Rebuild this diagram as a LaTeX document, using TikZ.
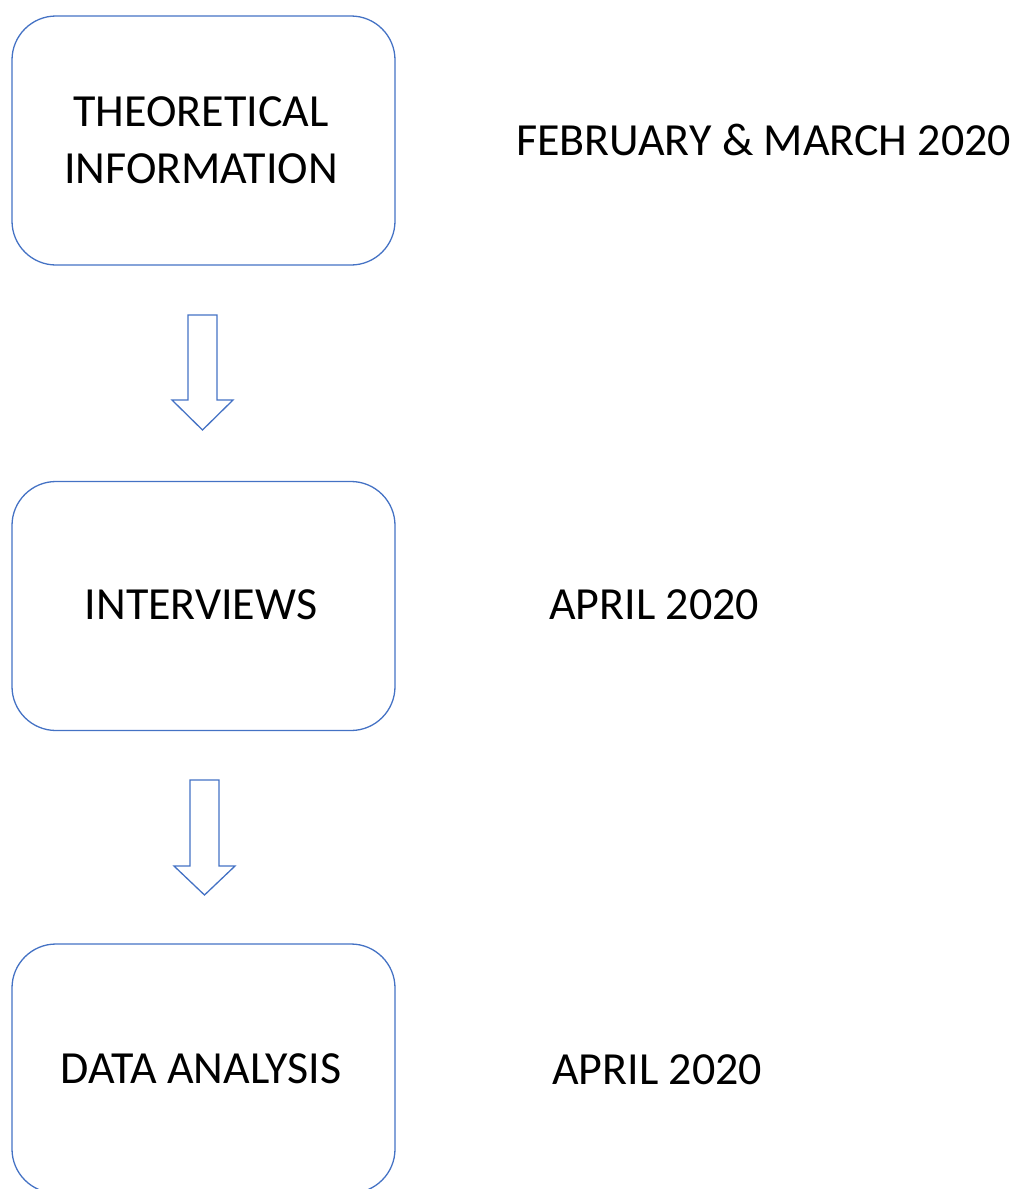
\documentclass[tikz,border=0pt]{standalone}
\usepackage{fontspec}
\setmainfont{Carlito}
\definecolor{boxblue}{HTML}{4472C4}
\begin{document}
\begin{tikzpicture}[x=1pt,y=-1pt,
  stagebox/.style={draw=boxblue, line width=1.3pt, rounded corners=44pt, minimum width=383pt, minimum height=249pt, inner sep=0pt},
  lbl/.style={font=\fontsize{46}{56}\selectfont, inner sep=0pt, anchor=base},
  datelbl/.style={font=\fontsize{46}{56}\selectfont, inner sep=0pt, anchor=base west},
  blockarrow/.style={draw=boxblue, line width=1.3pt, line join=miter}]
\useasboundingbox (0,0) rectangle (1019,1189);
\clip (0,0) rectangle (1019,1189);
\node[stagebox] (b1) at (203.5,140.5) {};
\node[stagebox] (b2) at (203.5,606) {};
\node[stagebox] (b3) at (203.5,1068.5) {};
\node[lbl] (t1a) at (201,126) {THEORETICAL};
\node[lbl] (t1b) at (201,183) {INFORMATION};
\node[lbl] (t2) at (201,619) {INTERVIEWS};
\node[lbl] (t3) at (201,1083) {DATA ANALYSIS};
\node[datelbl] (d1) at (516,155) {FEBRUARY \& MARCH 2020};
\node[datelbl] (d2) at (549,619) {APRIL 2020};
\node[datelbl] (d3) at (552,1084) {APRIL 2020};
\draw[blockarrow] (188,315) -- (217,315) -- (217,400) -- (233,400) -- (202.5,430) -- (172,400) -- (188,400) -- cycle;
\draw[blockarrow] (190,780) -- (219,780) -- (219,866) -- (235,866) -- (204.5,895) -- (174,866) -- (190,866) -- cycle;
\end{tikzpicture}
\end{document}
